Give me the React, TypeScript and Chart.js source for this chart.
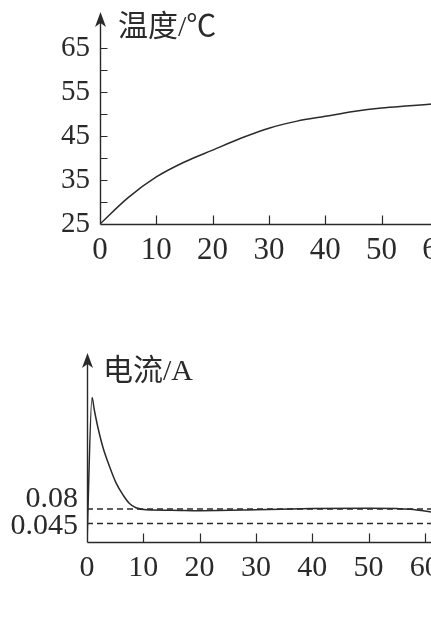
import React, { useEffect, useRef } from "react";
import { Chart, registerables } from "chart.js";

Chart.register(...registerables);

// ---------- data ----------
const timeTicks = [0, 10, 20, 30, 40, 50, 60];

const tempMajorTicks = [25, 35, 45, 55, 65];
const tempMinorTicks = [30, 40, 50, 60];
const tempTitle = "温度/℃";
const tempTime = [0, 5, 10, 15, 20, 25, 30, 35, 40, 45, 50, 55, 60];
const tempValues = [25, 31.0, 35.7, 39.1, 41.8, 44.5, 46.8, 48.4, 49.5, 50.6, 51.4, 51.9, 52.4];

const curTitle = "电流/A";
const curTime = [0, 0.9, 1.3, 1.9, 2.8, 4, 5.2, 6.4, 7.5, 8.7, 10.5, 15, 20, 30, 40, 50, 55, 58, 60, 62];
const curValues = [0, 0.35, 0.32, 0.28, 0.231, 0.183, 0.142, 0.114, 0.094, 0.083, 0.078, 0.077, 0.076, 0.078, 0.081, 0.082, 0.081, 0.079, 0.075, 0.071];
const refLevels = [0.08, 0.045];
const refLabels = ["0.08", "0.045"];

// ---------- style ----------
const INK = "#2a2a2a";
const SERIF = "'Liberation Serif', 'Times New Roman', serif";
const TITLE_FONT = "30px 'Liberation Serif', 'Noto Sans CJK SC', serif";
const CANVAS_W = 480;

type DecorCfg = {
  title: string;
  titleX: number;
  titleY: number;
  tipY: number;
  xTickVals: number[];
  yTickVals: number[];
  yLabelVals?: number[];
  yLabelTexts?: string[];
  yLabelOffsets?: number[];
  yLabelRight?: number;
};

function makeDecor(cfg: DecorCfg) {
  return {
    id: "decor",
    afterDraw(chart: any) {
      const ctx = chart.ctx as CanvasRenderingContext2D;
      const xs = chart.scales.x;
      const ys = chart.scales.y;
      const ox = Math.round(xs.getPixelForValue(0)) + 0.5;
      const oy = Math.round(ys.getPixelForValue(ys.min)) + 0.5;
      ctx.save();
      ctx.strokeStyle = INK;
      ctx.fillStyle = INK;
      ctx.lineWidth = 1.4;
      // axes
      ctx.beginPath();
      ctx.moveTo(ox, oy);
      ctx.lineTo(ox, cfg.tipY + 8);
      ctx.moveTo(ox, oy);
      ctx.lineTo(chart.width, oy);
      ctx.stroke();
      // arrow head
      ctx.beginPath();
      ctx.moveTo(ox, cfg.tipY);
      ctx.lineTo(ox - 5.5, cfg.tipY + 15);
      ctx.lineTo(ox, cfg.tipY + 11);
      ctx.lineTo(ox + 5.5, cfg.tipY + 15);
      ctx.closePath();
      ctx.fill();
      // tick marks (inward)
      ctx.lineWidth = 1.2;
      ctx.beginPath();
      cfg.xTickVals.forEach((v) => {
        if (v === 0) return;
        const px = Math.round(xs.getPixelForValue(v)) + 0.5;
        ctx.moveTo(px, oy);
        ctx.lineTo(px, oy - 9);
      });
      cfg.yTickVals.forEach((v) => {
        if (v === ys.min) return;
        const py = Math.round(ys.getPixelForValue(v)) + 0.5;
        ctx.moveTo(ox, py);
        ctx.lineTo(ox + 7, py);
      });
      ctx.stroke();
      // y labels drawn here when needed
      if (cfg.yLabelVals && cfg.yLabelTexts) {
        ctx.font = `30px ${SERIF}`;
        ctx.textAlign = "right";
        ctx.textBaseline = "middle";
        cfg.yLabelVals.forEach((v, i) => {
          const py = ys.getPixelForValue(v) + (cfg.yLabelOffsets ? cfg.yLabelOffsets[i] : 0);
          ctx.fillText(cfg.yLabelTexts![i], cfg.yLabelRight ?? ox - 10, py);
        });
      }
      // title
      ctx.font = TITLE_FONT;
      ctx.textAlign = "left";
      ctx.textBaseline = "middle";
      ctx.fillText(cfg.title, cfg.titleX, cfg.titleY);
      ctx.restore();
    },
  };
}

function TempChart() {
  const ref = useRef<HTMLCanvasElement>(null);
  useEffect(() => {
    const allTicks = [...tempMajorTicks, ...tempMinorTicks].sort((a, b) => a - b);
    const chart = new Chart(ref.current!, {
      type: "line",
      data: {
        datasets: [
          {
            data: tempTime.map((t, i) => ({ x: t, y: tempValues[i] })),
            borderColor: INK,
            borderWidth: 1.5,
            pointRadius: 0,
            fill: false,
            cubicInterpolationMode: "monotone",
          },
        ],
      },
      options: {
        animation: false,
        responsive: false,
        events: [],
        layout: { padding: { left: 0, top: 13, right: 14, bottom: 0 } },
        plugins: { legend: { display: false }, tooltip: { enabled: false } },
        scales: {
          x: {
            type: "linear",
            min: 0,
            max: 65,
            afterBuildTicks: (s: any) => {
              s.ticks = timeTicks.map((v) => ({ value: v }));
            },
            afterFit: (s: any) => {
              s.height = 56;
              s.paddingLeft = 0;
              s.paddingRight = 0;
            },
            grid: { display: false, drawTicks: false },
            border: { display: false },
            ticks: {
              color: INK,
              font: { family: SERIF, size: 31 },
              padding: 8,
              maxRotation: 0,
              autoSkip: false,
            },
          },
          y: {
            type: "linear",
            min: 25,
            max: 73,
            afterBuildTicks: (s: any) => {
              s.ticks = allTicks.map((v) => ({ value: v }));
            },
            afterFit: (s: any) => {
              s.width = 100;
              s.paddingTop = 0;
              s.paddingBottom = 0;
            },
            grid: { display: false, drawTicks: false },
            border: { display: false },
            ticks: {
              color: INK,
              font: { family: SERIF, size: 29 },
              padding: 10,
              autoSkip: false,
              callback: (v: any) => (tempMajorTicks.includes(Number(v)) ? String(v) : ""),
            },
          },
        },
      },
      plugins: [
        makeDecor({
          title: tempTitle,
          titleX: 118,
          titleY: 28,
          tipY: 12,
          xTickVals: timeTicks,
          yTickVals: allTicks,
        }),
      ],
    } as any);
    return () => chart.destroy();
  }, []);
  return (
    <canvas
      ref={ref}
      width={CANVAS_W}
      height={280}
      style={{ position: "absolute", left: 0, top: 0, width: CANVAS_W, height: 280 }}
    />
  );
}

function CurrentChart() {
  const ref = useRef<HTMLCanvasElement>(null);
  useEffect(() => {
    const chart = new Chart(ref.current!, {
      type: "line",
      data: {
        datasets: [
          {
            data: curTime.map((t, i) => ({ x: t, y: curValues[i] })),
            borderColor: INK,
            borderWidth: 1.5,
            pointRadius: 0,
            fill: false,
            cubicInterpolationMode: "monotone",
          },
          ...refLevels.map((lv) => ({
            data: [
              { x: 0, y: lv },
              { x: 65, y: lv },
            ],
            borderColor: INK,
            borderWidth: 1.5,
            borderDash: [6, 4],
            pointRadius: 0,
            fill: false,
          })),
        ],
      },
      options: {
        animation: false,
        responsive: false,
        events: [],
        layout: { padding: { left: 0, top: 22, right: 27, bottom: 0 } },
        plugins: { legend: { display: false }, tooltip: { enabled: false } },
        scales: {
          x: {
            type: "linear",
            min: 0,
            max: 65,
            afterBuildTicks: (s: any) => {
              s.ticks = timeTicks.map((v) => ({ value: v }));
            },
            afterFit: (s: any) => {
              s.height = 78;
              s.paddingLeft = 0;
              s.paddingRight = 0;
            },
            grid: { display: false, drawTicks: false },
            border: { display: false },
            ticks: {
              color: INK,
              font: { family: SERIF, size: 30 },
              padding: 8,
              maxRotation: 0,
              autoSkip: false,
            },
          },
          y: {
            type: "linear",
            min: 0,
            max: 0.4606,
            afterBuildTicks: (s: any) => {
              s.ticks = refLevels.map((v) => ({ value: v }));
            },
            afterFit: (s: any) => {
              s.width = 87;
              s.paddingTop = 0;
              s.paddingBottom = 0;
            },
            grid: { display: false, drawTicks: false },
            border: { display: false },
            ticks: { display: false },
          },
        },
      },
      plugins: [
        makeDecor({
          title: curTitle,
          titleX: 103,
          titleY: 42,
          tipY: 23,
          xTickVals: timeTicks,
          yTickVals: [],
          yLabelVals: refLevels,
          yLabelTexts: refLabels,
          yLabelOffsets: [-10, 3],
          yLabelRight: 78,
        }),
      ],
    } as any);
    return () => chart.destroy();
  }, []);
  return (
    <canvas
      ref={ref}
      width={CANVAS_W}
      height={290}
      style={{ position: "absolute", left: 0, top: 330, width: CANVAS_W, height: 290 }}
    />
  );
}

export default function App() {
  return (
    <div
      style={{
        position: "fixed",
        left: 0,
        top: 0,
        width: 431,
        height: 620,
        overflow: "hidden",
        background: "#fff",
      }}
    >
      <TempChart />
      <CurrentChart />
    </div>
  );
}
